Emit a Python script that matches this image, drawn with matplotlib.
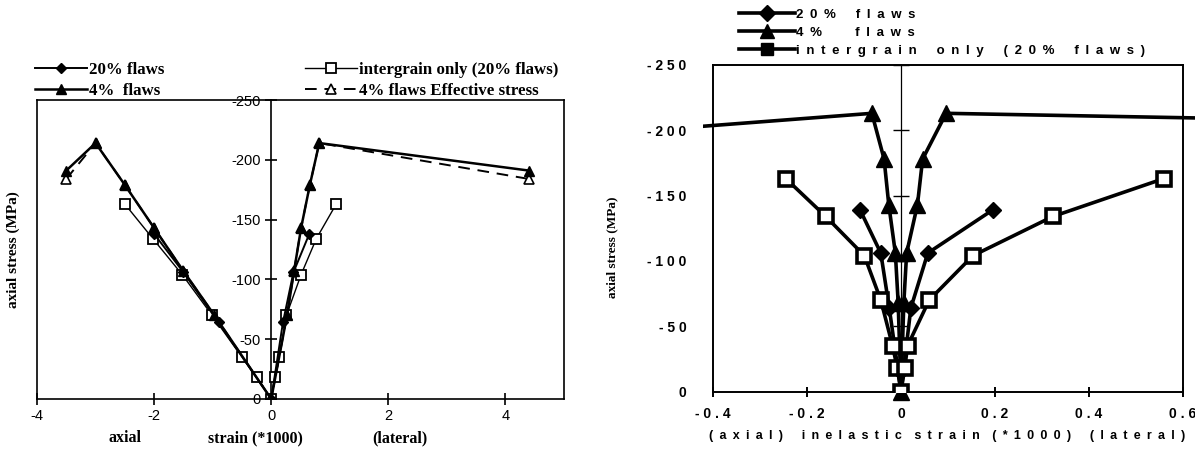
import numpy as np
import matplotlib.pyplot as plt
from matplotlib.lines import Line2D
from matplotlib.ticker import FuncFormatter
from matplotlib.transforms import Bbox, TransformedBbox

plt.rcParams['axes.unicode_minus'] = False

# =========================================
# Data: stress (MPa) vs strain (*1000)
# =========================================
# total strain, left panel
stress_20 = [0, -64, -106, -138]
axial_20 = [0, -0.9, -1.5, -2.0]
lateral_20 = [0, 0.2, 0.38, 0.65]

stress_4 = [0, -70, -107, -143, -179, -214, -191]
axial_4 = [0, -0.97, -1.5, -2.0, -2.5, -3.0, -3.5]
lateral_4 = [0, 0.27, 0.39, 0.51, 0.66, 0.82, 4.4]

stress_4_eff = [0, -70, -107, -143, -179, -214, -184]

stress_ig = [0, -18, -35, -70, -104, -134, -163]
axial_ig = [0, -0.24, -0.5, -1.01, -1.52, -2.02, -2.5]
lateral_ig = [0, 0.07, 0.14, 0.26, 0.51, 0.77, 1.11]

# inelastic strain, right panel
stress_20_in = [0, -64, -106, -139]
axial_20_in = [0, -0.025, -0.043, -0.087]
lateral_20_in = [0, 0.021, 0.057, 0.195]

stress_4_in = [0, -68, -106, -143, -178, -213, -191]
axial_4_in = [0, -0.006, -0.012, -0.026, -0.036, -0.062, -0.86]
lateral_4_in = [0, 0.006, 0.012, 0.035, 0.046, 0.096, 3.4]

stress_ig_in = [0, -18, -35, -70, -104, -134, -163]
axial_ig_in = [0, -0.008, -0.018, -0.043, -0.078, -0.16, -0.245]
lateral_ig_in = [0, 0.008, 0.014, 0.06, 0.153, 0.323, 0.559]

stress_ticks = [0, -50, -100, -150, -200, -250]
strain_ticks = [-4, -2, 0, 2, 4]
inel_ticks = [-0.4, -0.2, 0, 0.2, 0.4, 0.6]

SERIF = 'Liberation Serif'
SANS = ['Liberation Sans', 'DejaVu Sans']
EN = '\u2002'  # en space, used for the letter-spaced captions


def branch(axial, lateral, stress):
    # axial branch from its far end back to the origin, then out along lateral
    x = list(axial[::-1]) + list(lateral[1:])
    y = list(stress[::-1]) + list(stress[1:])
    return x, y


def spread(text, gap=EN, word_gap=EN * 3):
    return word_gap.join(gap.join(w) for w in text.split())


W, H = 1195, 455
fig = plt.figure(figsize=(W / 100, H / 100), dpi=100)

# =========================================
# Left panel: total strain
# =========================================
ax1 = fig.add_axes([37 / W, 1 - 399 / H, (564 - 37) / W, (399 - 100) / H])
ax1.set_xlim(-4, 5)
ax1.set_ylim(0, -250)

x, y = branch(axial_4, lateral_4, stress_4_eff)
l_eff, = ax1.plot(x, y, color='black', lw=1.4, ls=(0, (6, 4)), marker='^', ms=6.5,
                  mfc='white', mew=1.2, label='4% flaws Effective stress')
x, y = branch(axial_ig, lateral_ig, stress_ig)
l_ig, = ax1.plot(x, y, color='black', lw=1.0, marker='s', ms=6.5, mfc='white', mew=1.3,
                 label='intergrain only (20% flaws)')
x, y = branch(axial_4, lateral_4, stress_4)
l_4, = ax1.plot(x, y, color='black', lw=1.8, marker='^', ms=7.5, label='4%  flaws')
x, y = branch(axial_20, lateral_20, stress_20)
l_20, = ax1.plot(x, y, color='black', lw=1.4, marker='D', ms=5, label='20% flaws')

for sp in ax1.spines.values():
    sp.set_linewidth(1.2)
ax1.set_xticks(strain_ticks)
ax1.tick_params(axis='x', direction='inout', length=8, width=1.2, pad=3, labelsize=10.5)
for lab in ax1.get_xticklabels():
    lab.set_fontfamily(SANS)
ax1.set_yticks([])

yax1 = ax1.secondary_yaxis(4 / 9)
yax1.set_yticks(stress_ticks)
yax1.tick_params(direction='inout', length=8, width=1.2, labelsize=10.5)
yax1.spines['left'].set_linewidth(1.2)
for lab in yax1.get_yticklabels():
    lab.set_fontfamily(SANS)

fig.text(13 / W, 1 - 250 / H, 'axial stress (MPa)', rotation=90, ha='center', va='center',
         fontfamily=SERIF, fontweight='bold', fontsize=11)
for txt, cx in [('axial', 125), ('strain (*1000)', 255), ('(lateral)', 400)]:
    fig.text(cx / W, 1 - 438 / H, txt, ha='center', va='center',
             fontfamily=SERIF, fontweight='bold', fontsize=11.5)

leg_kw = dict(loc='upper left', bbox_transform=fig.transFigure, frameon=False,
              handlelength=3.1, handletextpad=0.1, labelspacing=0.3, borderaxespad=0,
              prop={'family': SERIF, 'weight': 'bold', 'size': 12.2})
leg_a = ax1.legend([l_20, l_4], [l_20.get_label(), l_4.get_label()],
                   bbox_to_anchor=(28 / W, 1 - 55 / H), **leg_kw)
ax1.add_artist(leg_a)
ax1.legend([l_ig, l_eff], [l_ig.get_label(), l_eff.get_label()],
           bbox_to_anchor=(298 / W, 1 - 55 / H), **leg_kw)

# =========================================
# Right panel: inelastic strain
# =========================================
ax2 = fig.add_axes([713 / W, 1 - 391.5 / H, 470 / W, 326.5 / H])
ax2.set_xlim(-0.4, 0.6)
ax2.set_ylim(0, -250)

# post-peak 4% points fall outside the plot box; the line is cut at the figure edge
clip = TransformedBbox(Bbox.from_extents(703 / W, 0, 1, 1), fig.transFigure)

x, y = branch(axial_4_in, lateral_4_in, stress_4_in)
l4, = ax2.plot(x, y, color='black', lw=2.6, marker='^', ms=11, zorder=3)
l4.set_clip_box(clip)
x, y = branch(axial_20_in, lateral_20_in, stress_20_in)
ax2.plot(x, y, color='black', lw=2.6, marker='D', ms=8, zorder=3)
x, y = branch(axial_ig_in, lateral_ig_in, stress_ig_in)
ax2.plot(x, y, color='black', lw=2.6, marker='s', ms=10, mfc='white', mew=2.6, zorder=4)

for sp in ax2.spines.values():
    sp.set_linewidth(1.4)
ax2.set_xticks(inel_ticks)
ax2.set_yticks(stress_ticks)
spaced = FuncFormatter(lambda v, pos: ' '.join(f'{v:g}'))
ax2.xaxis.set_major_formatter(spaced)
ax2.yaxis.set_major_formatter(spaced)
ax2.tick_params(axis='x', direction='inout', length=7, width=1.4, pad=8, labelsize=10)
ax2.tick_params(axis='y', length=0, pad=19, labelsize=10)
for lab in ax2.get_xticklabels() + ax2.get_yticklabels():
    lab.set_fontfamily(SANS)
    lab.set_fontweight('bold')

yax2 = ax2.secondary_yaxis(0.4)
yax2.set_yticks(stress_ticks[1:])
yax2.tick_params(direction='inout', length=12, width=1.0, labelleft=False)
yax2.spines['left'].set_linewidth(0.9)

fig.text(612 / W, 1 - 247 / H, 'axial stress (MPa)', rotation=90, ha='center', va='center',
         fontfamily=SERIF, fontweight='bold', fontsize=9.5)
fig.text(947 / W, 1 - 436 / H,
         spread('(axial)') + EN * 3 + spread('inelastic strain (*1000)', word_gap=EN * 2)
         + EN * 3 + spread('(lateral)'), ha='center', va='center',
         fontfamily=SANS, fontweight='bold', fontsize=9)

leg_handles = [
    Line2D([], [], color='black', lw=2.6, marker='D', ms=8),
    Line2D([], [], color='black', lw=2.6, marker='^', ms=10),
    Line2D([], [], color='black', lw=2.6, marker='s', ms=9),
]
leg_labels = [spread('20% flaws'), spread('4% flaws', word_gap=EN * 5),
              spread('intergrain only (20% flaws)')]
ax2.legend(leg_handles, leg_labels, loc='upper left',
           bbox_to_anchor=(734 / W, 1 - 3 / H), bbox_transform=fig.transFigure,
           frameon=False, handlelength=4.2, handletextpad=0.1, labelspacing=0.45,
           prop={'family': SANS, 'weight': 'bold', 'size': 9.5}, borderaxespad=0)

fig.savefig('out.png', dpi=100)
